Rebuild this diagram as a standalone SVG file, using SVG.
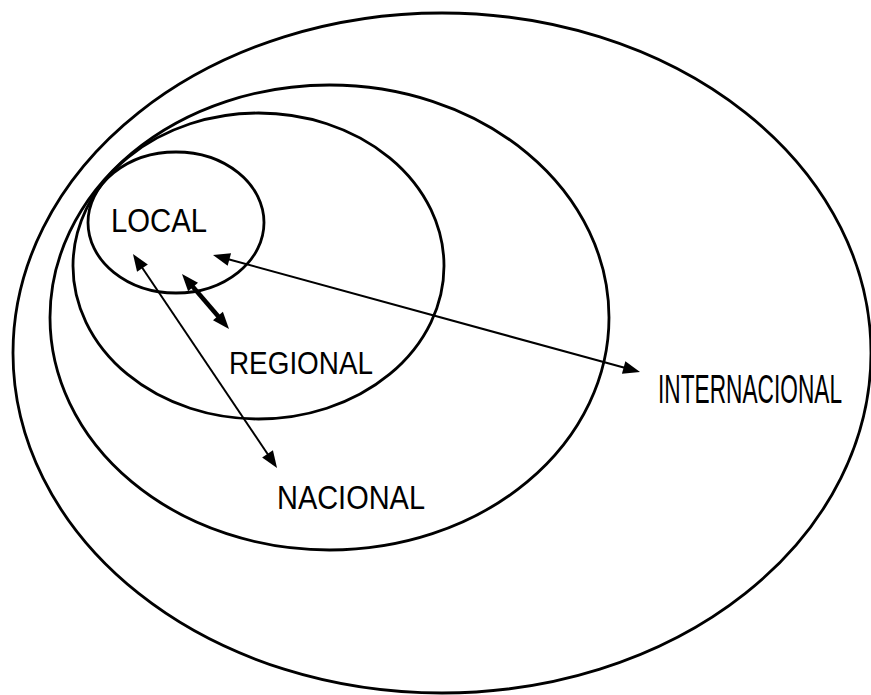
<svg xmlns="http://www.w3.org/2000/svg" width="871" height="695" viewBox="0 0 871 695">
<style>
.ring{fill:none;stroke:#000;stroke-width:2.8}
.lbl{font-family:"Liberation Sans",Arial,sans-serif;fill:#000}
.con{fill:none;stroke:#000;stroke-width:2}
.thick{stroke-width:4.5}
</style>
<defs>
<marker id="ah" markerUnits="userSpaceOnUse" markerWidth="18" markerHeight="14" refX="1" refY="6.5" orient="auto-start-reverse" overflow="visible">
<path d="M0,0 L17,6.5 L0,13 z" fill="#000"/>
</marker>
</defs>
<rect width="871" height="695" fill="#fff"/>
<g id="internacional">
<ellipse class="ring" cx="442" cy="353" rx="429" ry="340"/>
<text class="lbl" x="658" y="403" font-size="41" textLength="184" lengthAdjust="spacingAndGlyphs">INTERNACIONAL</text>
</g>
<g id="nacional">
<ellipse class="ring" cx="329.5" cy="317.5" rx="279.5" ry="232.5"/>
<text class="lbl" x="277" y="509" font-size="33" textLength="148" lengthAdjust="spacingAndGlyphs">NACIONAL</text>
</g>
<g id="regional">
<ellipse class="ring" cx="258.5" cy="266" rx="185.5" ry="153"/>
<text class="lbl" x="229" y="374" font-size="32" textLength="144" lengthAdjust="spacingAndGlyphs">REGIONAL</text>
</g>
<g id="local">
<ellipse class="ring" cx="176" cy="222.5" rx="88" ry="70.5"/>
<text class="lbl" x="111" y="232" font-size="34" textLength="96" lengthAdjust="spacingAndGlyphs">LOCAL</text>
</g>
<g id="connectors">
<path class="con" d="M228.4,259.2 L624.6,367.8" marker-start="url(#ah)" marker-end="url(#ah)"/>
<path class="con" d="M141.9,267.3 L268.1,454.7" marker-start="url(#ah)" marker-end="url(#ah)"/>
<path class="con thick" d="M192.4,286.2 L218.6,316.8" marker-start="url(#ah)" marker-end="url(#ah)"/>
</g>
</svg>
